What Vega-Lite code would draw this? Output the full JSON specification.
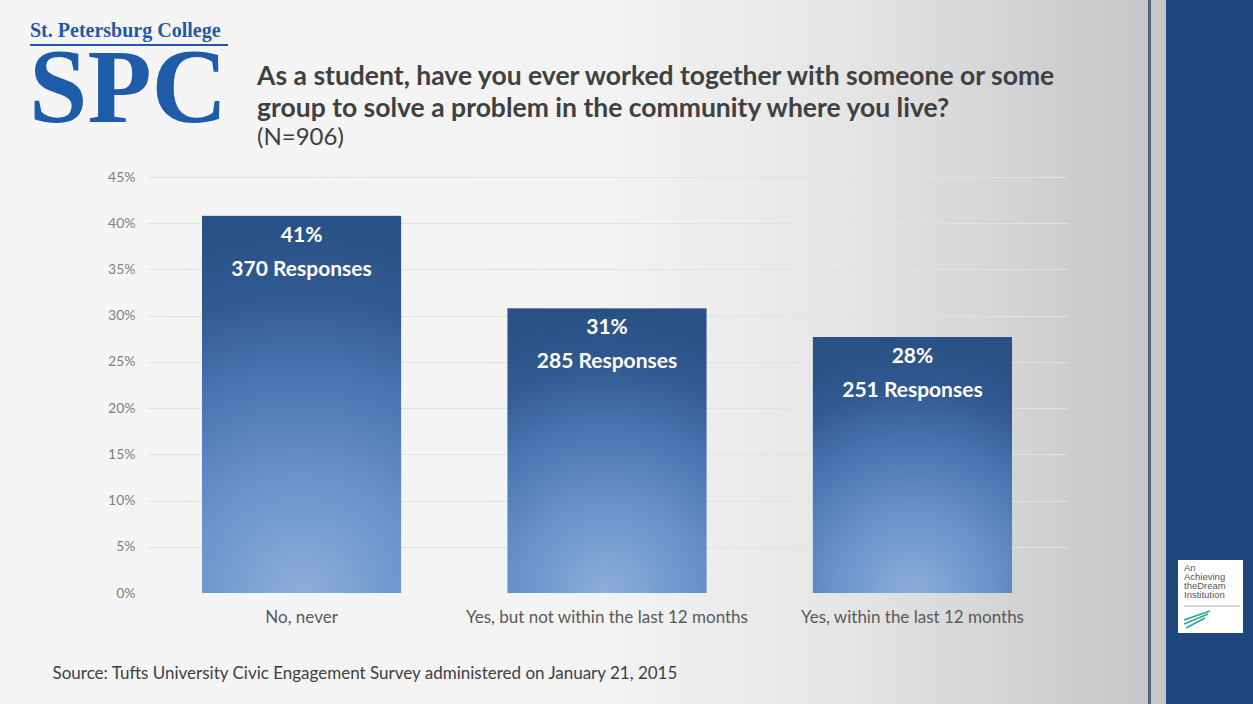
{
  "$schema": "https://vega.github.io/schema/vega-lite/v6.json",
  "width": 920,
  "height": 416,
  "autosize": "none",
  "padding": {"left": 147, "top": 177, "right": 186, "bottom": 111},
  "background": "#F5F5F5",
  "config": {
    "font": "Lato",
    "view": {
      "stroke": null,
      "fill": {"gradient": "linear", "x1": 0, "y1": 0, "x2": 1, "y2": 0,
        "stops": [{"offset": 0, "color": "#F5F5F5"}, {"offset": 0.5, "color": "#F3F3F3"}, {"offset": 0.75, "color": "#E6E6E6"}, {"offset": 1, "color": "#CECECE"}]}
    }
  },
  "title": {
    "text": ["As a student, have you ever worked together with someone or some", "group to solve a problem in the community where you live?"],
    "subtitle": "(N=906)",
    "anchor": "start",
    "frame": "group",
    "dx": 110,
    "offset": -150,
    "font": "Lato",
    "fontSize": 26.5,
    "fontWeight": "bold",
    "color": "#404040",
    "lineHeight": 32,
    "subtitleFont": "Lato",
    "subtitleFontSize": 24,
    "subtitleColor": "#404040",
    "subtitlePadding": 4,
    "zindex": 1
  },
  "data": {
    "values": [
      {"response": "No, never", "percent": 40.8, "pct_label": "41%", "count_label": "370 Responses"},
      {"response": "Yes, but not within the last 12 months", "percent": 30.8, "pct_label": "31%", "count_label": "285 Responses"},
      {"response": "Yes, within the last 12 months", "percent": 27.7, "pct_label": "28%", "count_label": "251 Responses"}
    ]
  },
  "layer": [
    {
      "data": {"values": [{}]},
      "mark": {"type": "rect", "fill": {"gradient": "linear", "x1": 0, "y1": 0, "x2": 1, "y2": 0,
        "stops": [{"offset": 0, "color": "#F5F5F5"}, {"offset": 0.5, "color": "#F3F3F3"}, {"offset": 0.75, "color": "#E6E6E6"}, {"offset": 1, "color": "#CECECE"}]}},
      "encoding": {"x": {"value": 0}, "x2": {"value": 920}, "y": {"value": -177}, "y2": {"value": 0}}
    },
    {
      "data": {"values": [{}]},
      "mark": {"type": "rect", "fill": {"gradient": "linear", "x1": 0, "y1": 0, "x2": 1, "y2": 0,
        "stops": [{"offset": 0, "color": "#F5F5F5"}, {"offset": 0.5, "color": "#F3F3F3"}, {"offset": 0.75, "color": "#E6E6E6"}, {"offset": 1, "color": "#CECECE"}]}},
      "encoding": {"x": {"value": 0}, "x2": {"value": 920}, "y": {"value": 416}, "y2": {"value": 527}}
    },
    {
      "data": {"values": [{}]},
      "mark": {"type": "rect", "fill": {"gradient": "linear", "x1": 0, "y1": 0, "x2": 1, "y2": 0,
        "stops": [{"offset": 0, "color": "#CECECE"}, {"offset": 1, "color": "#C5C5C7"}]}},
      "encoding": {"x": {"value": 920}, "x2": {"value": 1019}, "y": {"value": -177}, "y2": {"value": 527}}
    },
    {
      "data": {"values": [{}]},
      "mark": {"type": "rect", "fill": "#56657A"},
      "encoding": {"x": {"value": 1001}, "x2": {"value": 1004}, "y": {"value": -177}, "y2": {"value": 527}}
    },
    {
      "data": {"values": [{}]},
      "mark": {"type": "rect", "fill": "#1F477D"},
      "encoding": {"x": {"value": 1019}, "x2": {"value": 1106}, "y": {"value": -177}, "y2": {"value": 527}}
    },
    {
      "data": {"values": [{}]},
      "mark": {"type": "rect", "fill": "#FFFFFF"},
      "encoding": {"x": {"value": 1031}, "x2": {"value": 1096}, "y": {"value": 383}, "y2": {"value": 456}}
    },
    {
      "data": {"values": [{}]},
      "mark": {"type": "text", "align": "left", "baseline": "top", "lineBreak": "\n", "lineHeight": 9, "fontSize": 9.5, "font": "Liberation Sans", "color": "#555555"},
      "encoding": {"x": {"value": 1037}, "y": {"value": 386}, "text": {"value": "An\nAchieving\ntheDream\nInstitution"}}
    },
    {
      "data": {"values": [{}]},
      "mark": {"type": "rule", "stroke": "#A0A0A0", "strokeWidth": 0.8},
      "encoding": {"x": {"value": 1037}, "x2": {"value": 1093}, "y": {"value": 429}}
    },
    {
      "data": {"values": [{}]},
      "mark": {"type": "rule", "stroke": "#2AA39A", "strokeWidth": 1.5},
      "encoding": {"x": {"value": 1037}, "y": {"value": 443}, "x2": {"value": 1063}, "y2": {"value": 434}}
    },
    {
      "data": {"values": [{}]},
      "mark": {"type": "rule", "stroke": "#2AA39A", "strokeWidth": 1.5},
      "encoding": {"x": {"value": 1037}, "y": {"value": 447}, "x2": {"value": 1061}, "y2": {"value": 437}}
    },
    {
      "data": {"values": [{}]},
      "mark": {"type": "rule", "stroke": "#2AA39A", "strokeWidth": 1.5},
      "encoding": {"x": {"value": 1039}, "y": {"value": 451}, "x2": {"value": 1058}, "y2": {"value": 441}}
    },
    {
      "data": {"values": [{}]},
      "mark": {"type": "text", "align": "left", "baseline": "alphabetic", "fontSize": 20, "font": "Liberation Serif", "fontWeight": "bold", "color": "#1F5AA6"},
      "encoding": {"x": {"value": -117}, "y": {"value": -140}, "text": {"value": "St. Petersburg College"}}
    },
    {
      "data": {"values": [{}]},
      "mark": {"type": "rule", "stroke": "#1F5AA6", "strokeWidth": 2},
      "encoding": {"x": {"value": -117}, "x2": {"value": 81}, "y": {"value": -132}}
    },
    {
      "data": {"values": [{}]},
      "mark": {"type": "text", "align": "left", "baseline": "alphabetic", "fontSize": 105, "font": "Liberation Serif", "fontWeight": "bold", "color": "#1E5BA8"},
      "encoding": {"x": {"value": -118}, "y": {"value": -55}, "text": {"value": "SPC"}}
    },
    {
      "mark": {"type": "bar", "fill": {"gradient": "radial", "x1": 0.5, "y1": 1, "r1": 0, "x2": 0.5, "y2": 1, "r2": 1,
        "stops": [{"offset": 0, "color": "#8DAEDA"}, {"offset": 0.3, "color": "#6A94CC"}, {"offset": 0.6, "color": "#4673AE"}, {"offset": 0.8, "color": "#30598F"}, {"offset": 1, "color": "#2A5186"}]}},
      "encoding": {
        "x": {
          "field": "response", "type": "nominal", "sort": null,
          "scale": {"paddingInner": 0.348, "paddingOuter": 0.18},
          "axis": {
            "title": "Source: Tufts University Civic Engagement Survey administered on January 21, 2015",
            "titleFont": "Lato", "titleFontSize": 17, "titleFontWeight": "normal", "titleColor": "#404040",
            "titleAnchor": "start", "titleAlign": "left", "titleX": -95, "titleY": 85, "titleBaseline": "alphabetic",
            "labelAngle": 0, "labelFont": "Lato", "labelFontSize": 17, "labelColor": "#595959", "labelPadding": 16,
            "labelLimit": 400,
            "ticks": false, "domain": false, "zindex": 1
          }
        },
        "y": {
          "field": "percent", "type": "quantitative",
          "scale": {"domain": [0, 45]},
          "axis": {
            "title": null, "values": [0, 5, 10, 15, 20, 25, 30, 35, 40, 45],
            "labelExpr": "datum.value + '%'",
            "labelFont": "Lato", "labelFontSize": 14, "labelColor": "#7F7F7F", "labelPadding": 12,
            "ticks": false, "domain": false, "gridColor": "#E2E2E2", "gridWidth": 1
          }
        }
      }
    },
    {
      "mark": {"type": "text", "color": "#FFFFFF", "fontWeight": "bold", "fontSize": 21, "font": "Lato", "baseline": "middle", "dy": 20},
      "encoding": {
        "x": {"field": "response", "type": "nominal", "sort": null},
        "y": {"field": "percent", "type": "quantitative"},
        "text": {"field": "pct_label"}
      }
    },
    {
      "mark": {"type": "text", "color": "#FFFFFF", "fontWeight": "bold", "fontSize": 21, "font": "Lato", "baseline": "middle", "dy": 54},
      "encoding": {
        "x": {"field": "response", "type": "nominal", "sort": null},
        "y": {"field": "percent", "type": "quantitative"},
        "text": {"field": "count_label"}
      }
    }
  ]
}
